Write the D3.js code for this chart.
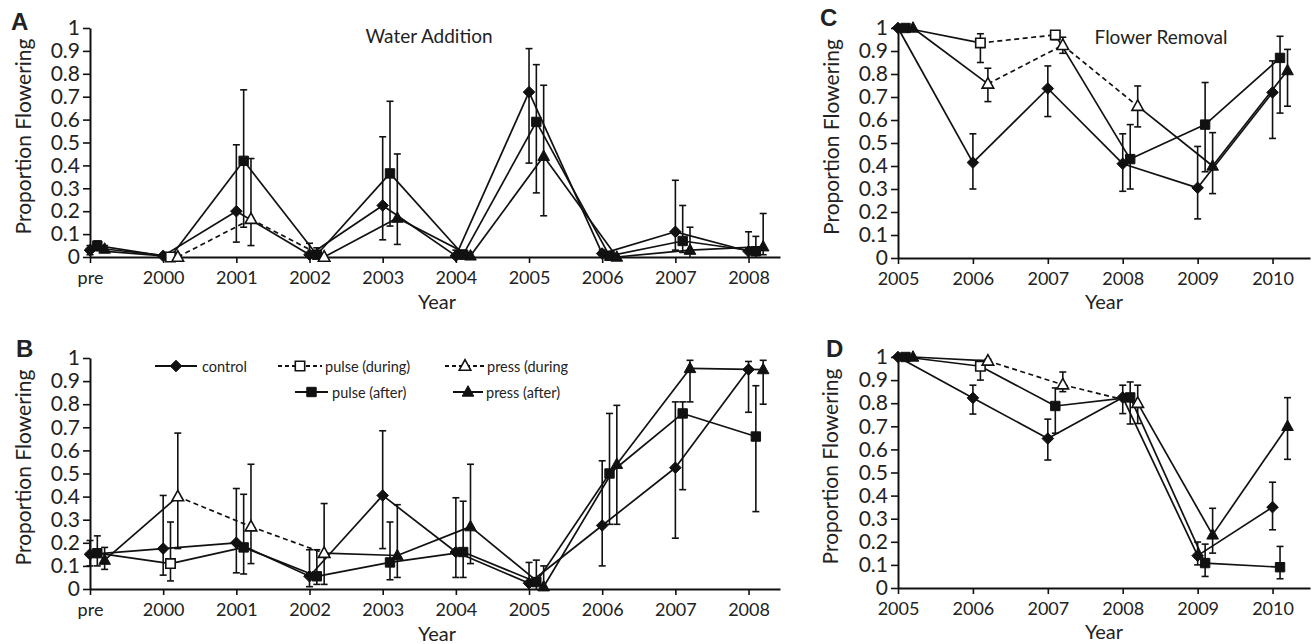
<!DOCTYPE html>
<html><head><meta charset="utf-8">
<script src="https://cdn.jsdelivr.net/npm/d3@7"></script>
<style>
html,body{margin:0;padding:0;background:#fff;}
svg{display:block;}
text{font-family:Lato,"Open Sans",sans-serif;fill:#222;}
</style></head>
<body>
<svg id="chart" width="1314" height="644"></svg>
<script>
// ---------- DATA ----------
const catsAB = ["pre","2000","2001","2002","2003","2004","2005","2006","2007","2008"];
const catsCD = ["2005","2006","2007","2008","2009","2010"];
const yTicks = [0,0.1,0.2,0.3,0.4,0.5,0.6,0.7,0.8,0.9,1];
const legendLabels = ["control","pulse (during)","press (during","pulse (after)","press (after)"];

// Panel A – Water Addition
const aControl   = [0.03, 0.005, 0.20, 0.01, 0.225, 0.005, 0.72, 0.015, 0.11, 0.025];
const aControlLo = [0.01, 0, 0.065, 0, 0.075, 0, 0.41, 0, 0.03, 0];
const aControlHi = [0.05, 0.01, 0.49, 0.06, 0.525, 0.03, 0.91, 0.03, 0.335, 0.11];
const aPulse     = [0.05, 0.0, 0.42, 0.01, 0.365, 0.01, 0.59, 0.005, 0.07, 0.025];
const aPulseLo   = [0.03, 0, 0.13, 0, 0.135, 0, 0.28, 0, 0.02, 0];
const aPulseHi   = [0.07, 0.01, 0.73, 0.04, 0.68, 0.03, 0.84, 0.01, 0.225, 0.09];
const aPress     = [0.035, 0.0, 0.165, 0.0, 0.17, 0.005, 0.44, 0.0, 0.03, 0.045];
const aPressLo   = [0.02, 0, 0.05, 0, 0.055, 0, 0.18, 0, 0, 0.01];
const aPressHi   = [0.05, 0.01, 0.43, 0.01, 0.45, 0.02, 0.75, 0.01, 0.13, 0.19];
const aPulseDuring = [1];
const aPressDuring = [1,2,3];

// Panel B
const bControl   = [0.15, 0.175, 0.20, 0.055, 0.405, 0.16, 0.025, 0.275, 0.525, 0.95];
const bControlLo = [0.10, 0.06, 0.07, 0.01, 0.175, 0.05, 0.0, 0.10, 0.22, 0.765];
const bControlHi = [0.21, 0.405, 0.435, 0.17, 0.685, 0.395, 0.115, 0.555, 0.81, 0.985];
const bPulse     = [0.155, 0.11, 0.18, 0.055, 0.115, 0.16, 0.03, 0.50, 0.76, 0.66];
const bPulseLo   = [0.10, 0.035, 0.065, 0.02, 0.04, 0.05, 0.0, 0.28, 0.43, 0.335];
const bPulseHi   = [0.23, 0.29, 0.41, 0.17, 0.29, 0.38, 0.125, 0.76, 0.81, 0.88];
const bPress     = [0.125, 0.40, 0.27, 0.155, 0.145, 0.27, 0.01, 0.54, 0.955, 0.95];
const bPressLo   = [0.085, 0.175, 0.11, 0.02, 0.05, 0.11, 0.0, 0.28, 0.81, 0.80];
const bPressHi   = [0.18, 0.675, 0.54, 0.37, 0.365, 0.54, 0.10, 0.795, 0.99, 0.99];
const bPulseDuring = [1];
const bPressDuring = [1,2,3];

// Panel C – Flower Removal
const cControl   = [1, 0.415, 0.737, 0.41, 0.305, 0.72];
const cControlLo = [1, 0.30, 0.615, 0.29, 0.17, 0.52];
const cControlHi = [1, 0.54, 0.835, 0.54, 0.485, 0.857];
const cPulse     = [1, 0.935, 0.97, 0.43, 0.58, 0.87];
const cPulseLo   = [1, 0.85, 0.95, 0.30, 0.375, 0.63];
const cPulseHi   = [1, 0.975, 0.98, 0.58, 0.763, 0.964];
const cPress     = [1, 0.757, 0.925, 0.66, 0.40, 0.815];
const cPressLo   = [1, 0.68, 0.89, 0.57, 0.28, 0.66];
const cPressHi   = [1, 0.825, 0.96, 0.748, 0.545, 0.907];
const cPulseDuring = [1,2];
const cPressDuring = [1,2,3];

// Panel D
const dControl   = [1, 0.823, 0.647, 0.825, 0.14, 0.35];
const dControlLo = [1, 0.753, 0.554, 0.755, 0.10, 0.252];
const dControlHi = [1, 0.878, 0.731, 0.878, 0.199, 0.458];
const dPulse     = [1, 0.96, 0.788, 0.825, 0.108, 0.09];
const dPulseLo   = [1, 0.90, 0.67, 0.71, 0.05, 0.04];
const dPulseHi   = [1, 0.985, 0.866, 0.892, 0.19, 0.18];
const dPress     = [1, 0.983, 0.88, 0.80, 0.23, 0.70];
const dPressLo   = [1, 0.975, 0.85, 0.712, 0.151, 0.557];
const dPressHi   = [1, 0.99, 0.935, 0.878, 0.345, 0.824];
const dPulseDuring = [1];
const dPressDuring = [1,2,3];

// ---------- DRAWING ----------
const svg = d3.select("#chart");

function markerPath(type){
  if(type==="diamond"){ const s=5.8; return `M0,${-s}L${s},0L0,${s}L${-s},0Z`; }
  if(type==="square"){ const s=4.7; return `M${-s},${-s}H${s}V${s}H${-s}Z`; }
  const w=5.8, h=10.5; return `M0,${-h*0.6}L${w},${h*0.4}L${-w},${h*0.4}Z`;
}

function panel(cfg){
  const g = svg.append("g");
  const x = d3.scaleLinear().domain([0, cfg.xMax]).range([cfg.x0, cfg.x1]);
  const y = d3.scaleLinear().domain([0,1]).range([cfg.yBottom, cfg.yTop]);
  const n = cfg.cats.length;

  // axes
  const ya = g.append("g").attr("transform",`translate(${cfg.x0},0)`)
    .call(d3.axisLeft(y).tickValues(yTicks).tickSize(7).tickSizeOuter(0).tickPadding(3)
      .tickFormat(d => d===0 ? "0" : d===1 ? "1" : d3.format(".1f")(d)));
  ya.select(".domain").attr("stroke","#111").attr("stroke-width",2);
  ya.selectAll(".tick line").attr("stroke","#111").attr("stroke-width",1.6);
  ya.selectAll("text").style("font-size","21px").attr("fill","#222");

  const xa = g.append("g").attr("transform",`translate(0,${cfg.yBottom})`)
    .call(d3.axisBottom(x).tickValues(d3.range(n)).tickSize(6).tickSizeOuter(0).tickPadding(8)
      .tickFormat(i => cfg.cats[i]));
  xa.select(".domain").attr("stroke","#111").attr("stroke-width",2);
  xa.selectAll(".tick line").attr("stroke","#111").attr("stroke-width",1.6);
  xa.selectAll("text").style("font-size","18px").attr("fill","#222");

  // series
  const series = [
    {v:cfg.control, lo:cfg.controlLo, hi:cfg.controlHi, off:0, type:"diamond", during:[]},
    {v:cfg.pulse, lo:cfg.pulseLo, hi:cfg.pulseHi, off:0.1, type:"square", during:cfg.pulseDuring},
    {v:cfg.press, lo:cfg.pressLo, hi:cfg.pressHi, off:0.2, type:"triangle", during:cfg.pressDuring}
  ];
  series.forEach(s=>{
    for(let i=0;i<n-1;i++){
      const dashed = s.during.includes(i) && s.during.includes(i+1);
      g.append("line")
        .attr("x1",x(i+s.off)).attr("y1",y(s.v[i]))
        .attr("x2",x(i+1+s.off)).attr("y2",y(s.v[i+1]))
        .attr("stroke","#111").attr("stroke-width",1.7)
        .attr("stroke-dasharray", dashed ? "5,3.5" : null);
    }
  });
  series.forEach(s=>{
    for(let i=0;i<n;i++){
      const cx = x(i+s.off);
      if(s.hi[i]-s.lo[i] > 0.012){
        g.append("line").attr("x1",cx).attr("x2",cx).attr("y1",y(s.lo[i])).attr("y2",y(s.hi[i]))
          .attr("stroke","#111").attr("stroke-width",1.6);
        [s.lo[i], s.hi[i]].forEach(val=>{
          if(val>0.003) g.append("line").attr("x1",cx-3.5).attr("x2",cx+3.5)
            .attr("y1",y(val)).attr("y2",y(val)).attr("stroke","#111").attr("stroke-width",1.6);
        });
      }
    }
  });
  series.forEach(s=>{
    for(let i=0;i<n;i++){
      const open = s.during.includes(i);
      g.append("path").attr("d",markerPath(s.type))
        .attr("transform",`translate(${x(i+s.off)},${y(s.v[i])})`)
        .attr("fill", open ? "#fff" : "#111")
        .attr("stroke","#111").attr("stroke-width", open ? 1.6 : 1);
    }
  });

  // labels
  g.append("text").text(cfg.letter).attr("x",cfg.letterX).attr("y",cfg.letterY)
    .style("font-family","'Liberation Sans',Arial,sans-serif").style("font-weight","bold").style("font-size","24px").attr("fill","#111");
  g.append("text").text("Proportion Flowering")
    .attr("transform",`translate(${cfg.ylabX},${(cfg.yTop+cfg.yBottom)/2 - 6}) rotate(-90)`)
    .attr("text-anchor","middle").attr("dominant-baseline","central").style("font-size","21px");
  g.append("text").text("Year").attr("x",cfg.xlabX).attr("y",cfg.xlabY)
    .attr("text-anchor","middle").style("font-size","20px");
  if(cfg.title){
    g.append("text").text(cfg.title).attr("x",cfg.titleX).attr("y",cfg.titleY)
      .attr("text-anchor","middle").style("font-size","19px");
  }
  return {x,y,g};
}

panel({letter:"A", letterX:11, letterY:30, cats:catsAB, xMax:9.43, x0:90, x1:780, yTop:28, yBottom:257,
  control:aControl, controlLo:aControlLo, controlHi:aControlHi,
  pulse:aPulse, pulseLo:aPulseLo, pulseHi:aPulseHi,
  press:aPress, pressLo:aPressLo, pressHi:aPressHi,
  pulseDuring:aPulseDuring, pressDuring:aPressDuring,
  ylabX:22, xlabX:437, xlabY:309, title:"Water Addition", titleX:429, titleY:43});

panel({letter:"B", letterX:16, letterY:357, cats:catsAB, xMax:9.43, x0:90, x1:780, yTop:358, yBottom:589,
  control:bControl, controlLo:bControlLo, controlHi:bControlHi,
  pulse:bPulse, pulseLo:bPulseLo, pulseHi:bPulseHi,
  press:bPress, pressLo:bPressLo, pressHi:bPressHi,
  pulseDuring:bPulseDuring, pressDuring:bPressDuring,
  ylabX:22, xlabX:437, xlabY:641});

panel({letter:"C", letterX:820, letterY:26, cats:catsCD, xMax:5.5, x0:898, x1:1310, yTop:28, yBottom:258,
  control:cControl, controlLo:cControlLo, controlHi:cControlHi,
  pulse:cPulse, pulseLo:cPulseLo, pulseHi:cPulseHi,
  press:cPress, pressLo:cPressLo, pressHi:cPressHi,
  pulseDuring:cPulseDuring, pressDuring:cPressDuring,
  ylabX:830, xlabX:1104, xlabY:309, title:"Flower Removal", titleX:1161, titleY:44});

panel({letter:"D", letterX:826, letterY:357, cats:catsCD, xMax:5.5, x0:898, x1:1310, yTop:357, yBottom:588,
  control:dControl, controlLo:dControlLo, controlHi:dControlHi,
  pulse:dPulse, pulseLo:dPulseLo, pulseHi:dPulseHi,
  press:dPress, pressLo:dPressLo, pressHi:dPressHi,
  pulseDuring:dPulseDuring, pressDuring:dPressDuring,
  ylabX:829, xlabX:1104, xlabY:639});

// legend (panel B)
const lg = svg.append("g");
const legendItems = [
  {label:legendLabels[0], type:"diamond", open:false, dashed:false, x1:155, x2:197, tx:202, y:366},
  {label:legendLabels[1], type:"square", open:true, dashed:true, x1:278, x2:322, tx:325, y:366},
  {label:legendLabels[2], type:"triangle", open:true, dashed:true, x1:445, x2:485, tx:487, y:366},
  {label:legendLabels[3], type:"square", open:false, dashed:false, x1:295, x2:328, tx:332, y:392},
  {label:legendLabels[4], type:"triangle", open:false, dashed:false, x1:453, x2:483, tx:486, y:392}
];
legendItems.forEach(it=>{
  lg.append("line").attr("x1",it.x1).attr("x2",it.x2).attr("y1",it.y).attr("y2",it.y)
    .attr("stroke","#111").attr("stroke-width",2).attr("stroke-dasharray", it.dashed ? "4,3" : null);
  lg.append("path").attr("d",markerPath(it.type)).attr("transform",`translate(${(it.x1+it.x2)/2},${it.y})`)
    .attr("fill", it.open ? "#fff" : "#111").attr("stroke","#111").attr("stroke-width", it.open?1.6:1);
  lg.append("text").text(it.label).attr("x",it.tx).attr("y",it.y).attr("dominant-baseline","central")
    .style("font-size","14.5px");
});
</script>
</body></html>
